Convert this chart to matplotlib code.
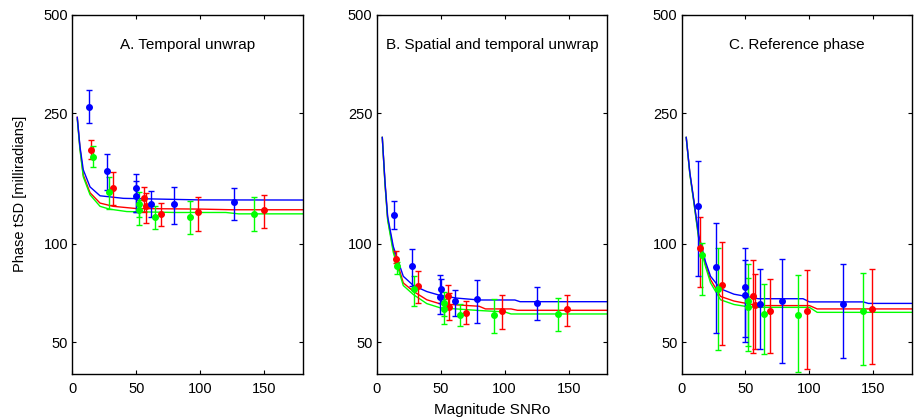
import matplotlib
matplotlib.use("Agg")
import matplotlib.pyplot as plt
from matplotlib.ticker import FixedLocator, NullLocator

plt.rcParams['font.family'] = ['Liberation Sans', 'DejaVu Sans']

titles = ["A. Temporal unwrap", "B. Spatial and temporal unwrap", "C. Reference phase"]
colors = {"red": "#ff0000", "green": "#00ff00", "blue": "#0000ff"}

# ---------------- Panel A ----------------
A_line_blue_x = [3.9, 6.0, 8.6, 13.9, 21.7, 40, 100, 180]
A_line_blue_y = [243, 198, 168, 149, 140, 137.5, 136, 135.9]
A_line_red_x = [3.9, 6.0, 8.6, 13.9, 21.7, 32, 50, 100, 125, 180]
A_line_red_y = [243, 196, 162, 143, 133, 130, 128, 127.5, 126.9, 126.9]
A_line_green_x = [3.9, 6.0, 8.6, 13.9, 21.7, 29, 42.6, 80, 120, 130, 180]
A_line_green_y = [240, 194, 160, 141, 130, 127.5, 125.3, 124.5, 124.5, 123.3, 123.3]

A_blue_x = [13.3, 27.4, 49.9, 49.9, 61.9, 79.1, 126.1]
A_blue_y = [262, 166.5, 148.4, 139.4, 132.4, 132.4, 133.6]
A_blue_lo = [233, 146, 125, 125, 121, 115, 118]
A_blue_hi = [295, 188, 163, 155, 144.3, 149.4, 148]

A_red_x = [14.9, 32.1, 56.4, 57.4, 69.5, 98.2, 149.6]
A_red_y = [193.4, 148.4, 137.4, 130, 123.1, 124.5, 126.6]
A_red_lo = [181, 131.5, 125, 115.6, 113.5, 109, 112]
A_red_hi = [207.5, 165, 149.4, 142.7, 133, 138.4, 140.4]

A_green_x = [16.5, 29.0, 52.5, 52.5, 65.0, 91.6, 141.7]
A_green_y = [184.5, 144, 132.4, 126.9, 121, 121, 123.3]
A_green_lo = [172, 128, 121, 114.3, 111, 107, 109]
A_green_hi = [198, 160, 144, 136, 130.6, 135, 138.4]

# ---------------- Panel B ----------------
B_line_blue_x = [4.4, 6.5, 8.6, 13.0, 20.8, 28.7, 39.2, 49.6, 62.6, 80, 108, 112, 180]
B_line_blue_y = [211, 155, 121, 98, 79.5, 74.5, 71.4, 69.5, 68.2, 67.3, 67.3, 66.5, 66.5]
B_line_red_x = [4.4, 6.5, 8.6, 13.0, 20.8, 28.7, 39.2, 49.6, 80, 85, 105, 110, 180]
B_line_red_y = [211, 153, 119, 96, 75.9, 71.5, 67.4, 65.5, 64.4, 63.2, 63.2, 62.6, 62.6]
B_line_green_x = [4.4, 6.5, 8.6, 13.0, 20.8, 28.7, 39.2, 49.6, 80, 100, 105, 180]
B_line_green_y = [211, 152, 118, 94, 74.5, 69.9, 65.6, 63.7, 62.5, 61.9, 61.0, 61.0]

B_blue_x = [13.8, 27.6, 49.3, 50.1, 61.6, 78.3, 125.5]
B_blue_y = [122.3, 85.2, 68.6, 72.9, 66.7, 67.8, 66.1]
B_blue_lo = [110.8, 74, 61, 66, 60, 57.4, 58.5]
B_blue_hi = [135, 96.5, 80, 78, 72, 77.3, 73.6]

B_red_x = [15.1, 32.3, 55.8, 56.9, 69.9, 97.9, 148.8]
B_red_y = [89.8, 74.1, 69.0, 64.1, 61.5, 62.3, 63.3]
B_red_lo = [87.3, 65.9, 63.7, 58.6, 56.9, 55, 56.1]
B_red_hi = [94.7, 82.3, 74.6, 70.7, 66.7, 69.5, 69.5]

B_green_x = [16.1, 29.4, 52.7, 52.7, 65.0, 91.3, 141.7]
B_green_y = [85.2, 72.8, 66.0, 63.3, 60.4, 60.6, 61.0]
B_green_lo = [80.8, 64.4, 60, 57, 56, 53.4, 54.3]
B_green_hi = [87.9, 79.9, 71, 68, 65.4, 68, 68.4]

# ---------------- Panel C ----------------
C_line_blue_x = [3.7, 6.5, 9.6, 13.5, 18.8, 22.7, 30.5, 41, 51.5, 60, 95, 100, 142, 146, 180]
C_line_blue_y = [211, 165, 136, 106, 88, 79.5, 72.8, 70.1, 68.9, 67.9, 67.9, 66.4, 66.4, 65.7, 65.7]
C_line_red_x = [3.7, 6.5, 9.6, 13.5, 18.8, 22.7, 30.5, 41, 51.5, 60, 100, 106, 180]
C_line_red_y = [211, 164, 135, 104, 86, 77.7, 69.0, 66.8, 65.6, 64.7, 64.7, 63.2, 63.2]
C_line_green_x = [3.7, 6.5, 9.6, 13.5, 18.8, 22.7, 30.5, 41, 51.5, 60, 100, 106, 180]
C_line_green_y = [211, 163, 134, 103, 85, 75.9, 67.4, 65.2, 64.2, 63.9, 63.9, 61.7, 61.7]

C_blue_x = [13.1, 27.2, 49.6, 49.6, 61.6, 78.5, 125.8]
C_blue_y = [130, 84.6, 73.6, 69.5, 65.5, 66.7, 65.6]
C_blue_lo = [79.5, 53.4, 50, 52, 47.8, 43.3, 44.9]
C_blue_hi = [179.4, 115.6, 97.2, 88.9, 83.5, 90, 86.7]

C_red_x = [14.3, 31.9, 56.1, 57.4, 69.1, 97.9, 149.0]
C_red_y = [97.2, 74.6, 69.0, 65.0, 62.1, 62.1, 63.2]
C_red_lo = [73.6, 49, 46.4, 47.8, 46.4, 41.5, 43]
C_red_hi = [120.3, 100.9, 88.9, 80.8, 78, 82.9, 83.5]

C_green_x = [15.9, 28.7, 52.2, 52.2, 64.2, 91.1, 141.7]
C_green_y = [92.4, 72.8, 66.7, 63.9, 61.1, 60.4, 62.1]
C_green_lo = [69.9, 47.3, 46.9, 48.6, 46.1, 40.6, 42.5]
C_green_hi = [100.5, 97.2, 86.7, 78.6, 75.5, 80.2, 81.5]

panels = [
    dict(lines={"red": (A_line_red_x, A_line_red_y), "green": (A_line_green_x, A_line_green_y),
                "blue": (A_line_blue_x, A_line_blue_y)},
         pts={"red": (A_red_x, A_red_y, A_red_lo, A_red_hi),
              "green": (A_green_x, A_green_y, A_green_lo, A_green_hi),
              "blue": (A_blue_x, A_blue_y, A_blue_lo, A_blue_hi)}),
    dict(lines={"red": (B_line_red_x, B_line_red_y), "green": (B_line_green_x, B_line_green_y),
                "blue": (B_line_blue_x, B_line_blue_y)},
         pts={"red": (B_red_x, B_red_y, B_red_lo, B_red_hi),
              "green": (B_green_x, B_green_y, B_green_lo, B_green_hi),
              "blue": (B_blue_x, B_blue_y, B_blue_lo, B_blue_hi)}),
    dict(lines={"red": (C_line_red_x, C_line_red_y), "green": (C_line_green_x, C_line_green_y),
                "blue": (C_line_blue_x, C_line_blue_y)},
         pts={"red": (C_red_x, C_red_y, C_red_lo, C_red_hi),
              "green": (C_green_x, C_green_y, C_green_lo, C_green_hi),
              "blue": (C_blue_x, C_blue_y, C_blue_lo, C_blue_hi)}),
]

x_ticks = [0, 50, 100, 150]
y_ticks = [50, 100, 250, 500]
y_ticklabels = ["50", "100", "250", "500"]

fig = plt.figure(figsize=(9.16, 4.19), dpi=100)
lefts = [0.0789, 0.4112, 0.7440]
width = 0.2515
bottom = 0.1074
height = 0.8575

for i, p in enumerate(panels):
    ax = fig.add_axes([lefts[i], bottom, width, height])
    ax.set_yscale('log')
    for c in ["red", "green", "blue"]:
        lx, ly = p["lines"][c]
        ax.plot(lx, ly, color=colors[c], lw=1.0, zorder=2)
    for c in ["red", "green", "blue"]:
        x, y, lo, hi = p["pts"][c]
        yerr = [[yy - l for yy, l in zip(y, lo)], [h - yy for yy, h in zip(y, hi)]]
        ax.errorbar(x, y, yerr=yerr, fmt='o', color=colors[c], ms=4, elinewidth=1.0,
                    capsize=2, capthick=1.0, zorder=3)
    ax.set_xlim(0, 180)
    ax.set_ylim(40, 500)
    ax.xaxis.set_major_locator(FixedLocator(x_ticks))
    ax.yaxis.set_major_locator(FixedLocator(y_ticks))
    ax.yaxis.set_minor_locator(NullLocator())
    ax.set_yticklabels(y_ticklabels)
    ax.tick_params(direction='in', length=3, width=0.8, top=True, right=True,
                   labelsize=10.5, pad=3)
    ax.tick_params(axis='x', pad=6)
    for s in ax.spines.values():
        s.set_linewidth(1.0)
    ax.text(0.5, 0.916, titles[i], transform=ax.transAxes, ha='center', va='center',
            fontsize=11)
    if i == 0:
        ax.set_ylabel("Phase tSD [milliradians]", fontsize=10.5, labelpad=12)
    if i == 1:
        ax.set_xlabel("Magnitude SNRo", fontsize=11, labelpad=5)

fig.savefig("out.png", dpi=100)
